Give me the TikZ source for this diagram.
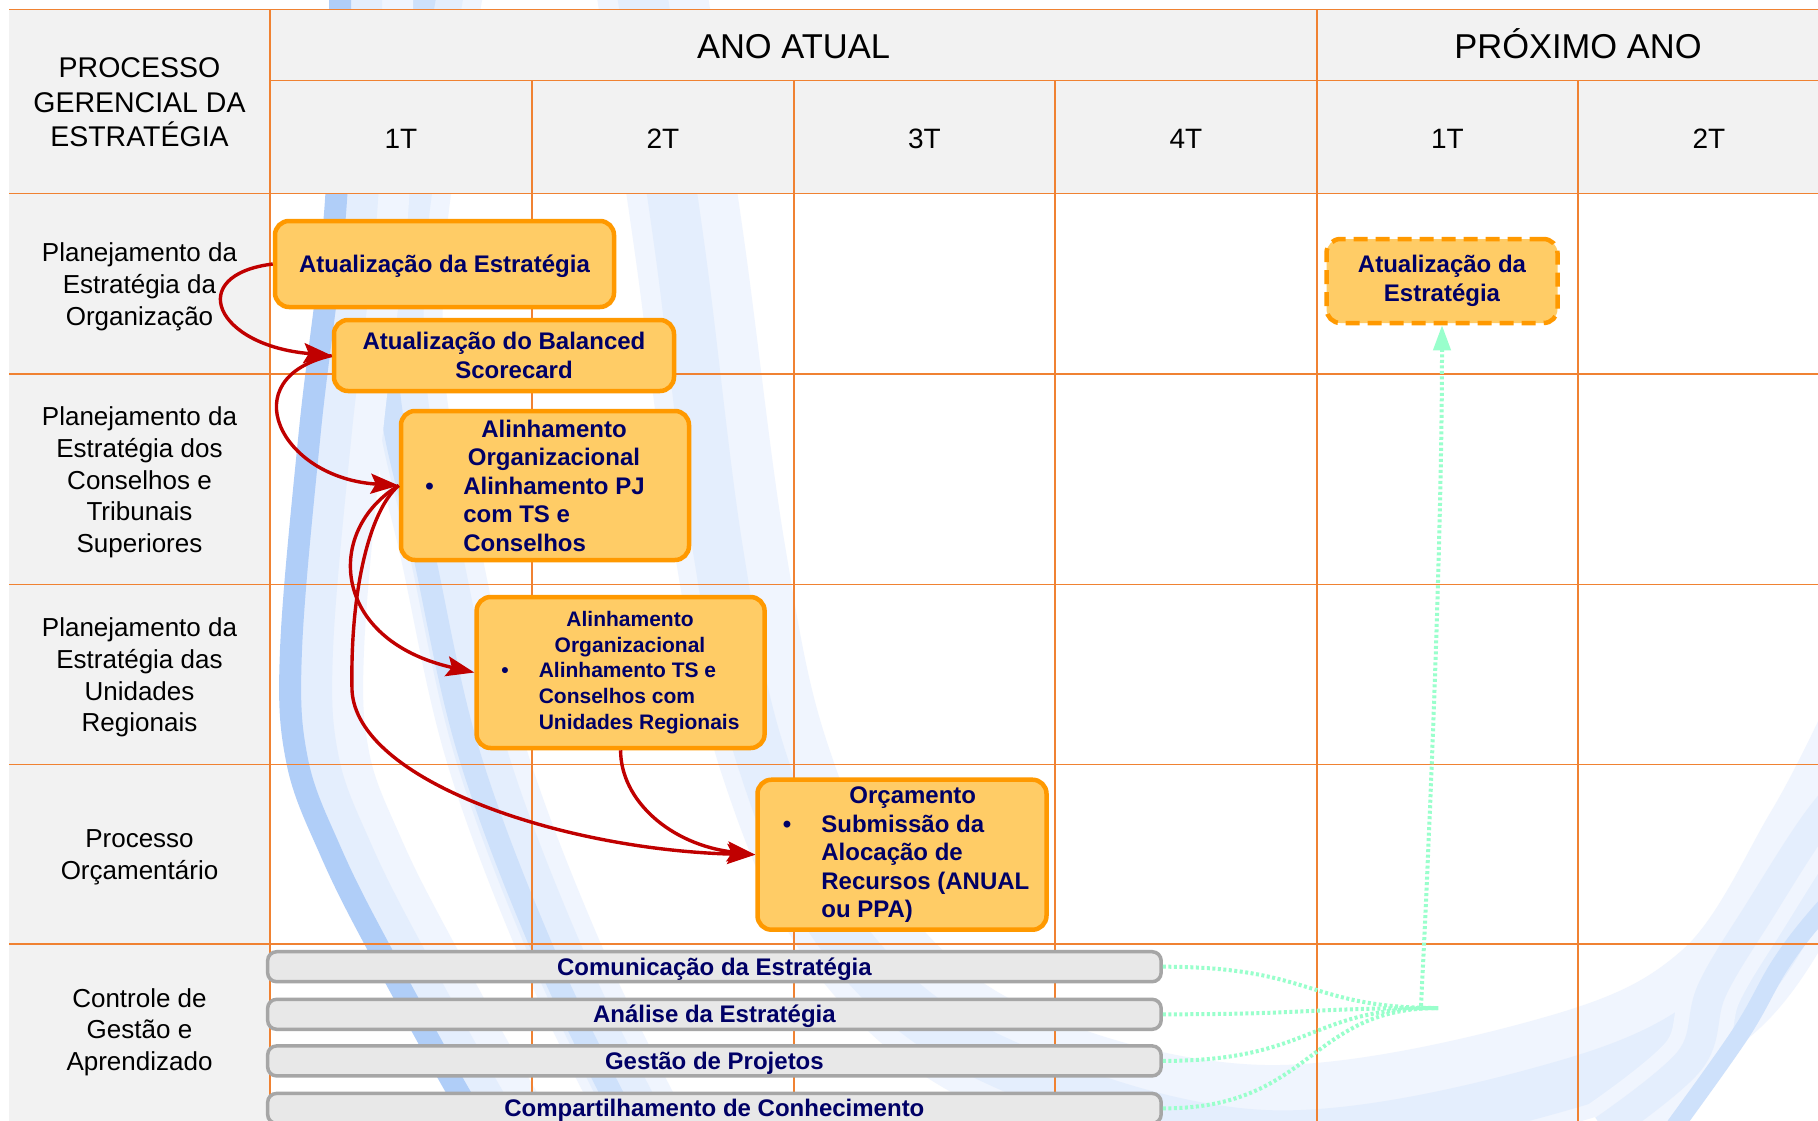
\documentclass[tikz,border=0pt]{standalone}
\usepackage{fontspec}
\setmainfont{Liberation Sans}
\usetikzlibrary{arrows.meta}

\definecolor{hdrgray}{RGB}{242,242,242}
\definecolor{gridor}{RGB}{240,130,50}
\definecolor{boxfill}{RGB}{255,204,102}
\definecolor{boxedge}{RGB}{255,153,0}
\definecolor{navy}{RGB}{0,0,102}
\definecolor{flowred}{RGB}{192,0,0}
\definecolor{aqua}{RGB}{153,255,204}
\definecolor{barfill}{RGB}{232,232,232}
\definecolor{baredge}{RGB}{166,166,166}
\definecolor{swA}{RGB}{176,206,248}
\definecolor{swB}{RGB}{206,225,251}
\definecolor{swC}{RGB}{228,238,253}
\definecolor{swD}{RGB}{240,245,254}

\newcommand\bxfont{\fontsize{24}{28.5}\selectfont\bfseries}
\newcommand\bxsmall{\fontsize{21}{25.7}\selectfont\bfseries}
\newcommand\lblfont{\fontsize{26}{31.7}\selectfont}
\newcommand\hdfont{\fontsize{34.5}{40}\selectfont}
\newcommand\qfont{\fontsize{28}{34}\selectfont}
\newcommand\procfont{\fontsize{28.5}{34.5}\selectfont}

\begin{document}
\begin{tikzpicture}[x=1pt,y=1pt,
  gridline/.style={draw=gridor, line width=1.5pt},
  orbox/.style={draw=boxedge, fill=boxfill, line width=4.5pt, rounded corners=14pt,
    inner sep=0pt, text=navy, font=\bxfont},
  dashbox/.style={orbox, dash pattern=on 14pt off 8pt},
  graybar/.style={draw=baredge, fill=barfill, line width=3.5pt, rounded corners=9pt,
    inner sep=0pt, minimum width=893.5pt, minimum height=30pt, text=navy,
    font=\bxfont, text height=17pt, text depth=0pt},
  rowlbl/.style={align=center, font=\lblfont, inner sep=0pt},
  qlbl/.style={font=\qfont, anchor=base, inner sep=0pt},
  yearlbl/.style={font=\hdfont, anchor=base, inner sep=0pt},
  flowarrow/.style={draw=flowred, line width=3.4pt,
    -{Stealth[length=28pt,width=20pt,inset=5pt]}},
  aqualine/.style={draw=aqua, line width=4pt, dash pattern=on 3pt off 2.5pt},
  band/.style={line join=round}
]
\useasboundingbox (0,0) rectangle (1818,-1120);
\begin{scope}
\clip (0,0) rectangle (1818,-1120);
\fill[white] (0,0) rectangle (1818,-1120);

% --- background swoosh: each band is a soft halo with a denser core ---
% wide pale arc sweeping round the lower part of the slide
\draw[band, swD, line width=110pt] plot[smooth, tension=0.6] coordinates
  {(650,20) (690,-250) (730,-550) (775,-760) (860,-940) (1010,-1060) (1265,-1120)
   (1560,-1070) (1720,-990) (1818,-840) (1870,-740)};
\draw[band, swC, line width=50pt] plot[smooth, tension=0.6] coordinates
  {(640,20) (680,-250) (718,-550) (762,-760) (845,-940) (995,-1060) (1265,-1135)
   (1565,-1085) (1732,-1000) (1830,-845) (1880,-745)};
% medium band
\draw[band, swD, line width=80pt] plot[smooth, tension=0.6] coordinates
  {(445,20) (425,-100) (405,-250) (407,-400) (440,-550) (485,-750) (560,-950) (645,-1125) (675,-1170)};
\draw[band, swC, line width=52pt] plot[smooth, tension=0.6] coordinates
  {(440,20) (420,-100) (400,-250) (402,-400) (435,-550) (480,-750) (555,-950) (640,-1125) (670,-1170)};
\draw[band, swB, line width=22pt] plot[smooth, tension=0.6] coordinates
  {(428,20) (408,-100) (388,-250) (390,-400) (423,-550) (468,-750) (543,-950) (628,-1125) (658,-1170)};
% strong narrow band with a pale glow on its right
\draw[band, swD, line width=70pt] plot[smooth, tension=0.6] coordinates
  {(378,20) (374,-200) (348,-430) (329,-650) (335,-760) (368,-850) (418,-950) (516,-1125) (558,-1170)};
\draw[band, swC, line width=40pt] plot[smooth, tension=0.6] coordinates
  {(362,20) (358,-200) (332,-430) (313,-650) (319,-760) (352,-850) (402,-950) (500,-1125) (542,-1170)};
\draw[band, swA, line width=22pt] plot[smooth, tension=0.6] coordinates
  {(340,20) (336,-200) (310,-430) (291,-650) (297,-760) (330,-850) (380,-950) (478,-1125) (520,-1170)};
% bands in the lower right corner
\draw[band, swD, line width=60pt] plot[smooth, tension=0.6] coordinates
  {(1870,-760) (1818,-820) (1760,-910) (1712,-990) (1690,-1060) (1604,-1130)};
\draw[band, swC, line width=30pt] plot[smooth, tension=0.6] coordinates
  {(1870,-760) (1818,-820) (1760,-910) (1712,-990) (1690,-1060) (1604,-1130)};
\draw[band, swB, line width=18pt] plot[smooth, tension=0.6] coordinates
  {(1870,-860) (1818,-915) (1780,-965) (1741,-1033) (1672,-1130)};

% --- table background ---
\fill[hdrgray] (9,-9.3) rectangle (1850,-193.3);
\fill[hdrgray] (9,-193.3) rectangle (270,-1130);

% --- grid ---
\draw[gridline] (9,-9.3) -- (1850,-9.3);
\draw[gridline] (270,-80.7) -- (1850,-80.7);
\foreach \y in {193.3,374,584.5,764.3,944}
  \draw[gridline] (9,-\y) -- (1850,-\y);
\foreach \x in {270,1317}
  \draw[gridline] (\x,-9.3) -- (\x,-1130);
\foreach \x in {532,794,1055,1578}
  \draw[gridline] (\x,-80.7) -- (\x,-1130);

% --- header texts ---
\node[align=center, font=\procfont, inner sep=0pt] (proc) at (139.5,-102.5)
  {PROCESSO\\GERENCIAL DA\\ESTRATÉGIA};
\node[yearlbl] (anoatual) at (793.5,-58.2) {ANO ATUAL};
\node[yearlbl] (proximo) at (1578,-58.3) {PRÓXIMO ANO};
\foreach \x/\t [count=\i] in {401/1T,663/2T,924.5/3T,1186/4T,1447.5/1T,1709/2T}
  \node[qlbl] (q\i) at (\x,-148.3) {\t};

% --- row labels ---
\node[rowlbl] (r1) at (139.5,-287) {Planejamento da\\Estratégia da\\Organização};
\node[rowlbl] (r2) at (139.5,-482.5) {Planejamento da\\Estratégia dos\\Conselhos e\\Tribunais\\Superiores};
\node[rowlbl] (r3) at (139.5,-677.5) {Planejamento da\\Estratégia das\\Unidades\\Regionais};
\node[rowlbl] (r4) at (139.5,-857.5) {Processo\\Orçamentário};
\node[rowlbl] (r5) at (139.5,-1032) {Controle de\\Gestão e\\Aprendizado};

% --- activity boxes ---
\node[orbox, minimum width=339pt, minimum height=86pt, text height=17pt, text depth=0pt]
  (strat) at (444.5,-264) {Atualização da Estratégia};
\node[orbox, minimum width=340pt, minimum height=71pt] (bsc) at (504,-355.5)
  {\parbox{330pt}{\centering Atualização do Balanced\\\hspace*{20pt}Scorecard}};
\node[orbox, minimum width=288pt, minimum height=149pt] (pj) at (545,-485.5)
  {\hspace*{18pt}\parbox{240pt}{{\centering Alinhamento\\Organizacional\par}%
   \noindent\hangindent=29.3pt\hangafter=1\makebox[29.3pt][l]{\hspace*{-8.6pt}\textbullet}%
   Alinhamento PJ\\com TS e\\Conselhos}};
\node[orbox, font=\bxsmall, minimum width=288pt, minimum height=151pt] (ur) at (620.6,-672.5)
  {\hspace*{18.8pt}\parbox{240pt}{{\centering Alinhamento\\Organizacional\par}%
   \noindent\hangindent=28.8pt\hangafter=1\makebox[28.8pt][l]{\hspace*{-8.7pt}\textbullet}%
   Alinhamento TS e\\Conselhos com\\Unidades Regionais}};
\node[orbox, minimum width=289pt, minimum height=150pt] (orc) at (902,-854.7)
  {\hspace*{21.6pt}\parbox{240pt}{{\centering Orçamento\par}%
   \noindent\hangindent=28.6pt\hangafter=1\makebox[28.6pt][l]{\hspace*{-10pt}\textbullet}%
   Submissão da\\Alocação de\\Recursos (ANUAL\\ou PPA)}};
\node[dashbox, minimum width=231pt, minimum height=84pt, align=center] (next) at (1442,-281)
  {Atualização da\\Estratégia};

% --- continuous processes ---
\node[graybar] (com)  at (714.4,-966.7)  {Comunicação da Estratégia};
\node[graybar] (ana)  at (714.4,-1014.3) {Análise da Estratégia};
\node[graybar] (proj) at (714.4,-1060.9) {Gestão de Projetos};
\node[graybar] (know) at (714.4,-1108.4) {Compartilhamento de Conhecimento};

% --- flow arrows ---
\draw[flowarrow] (strat.west) .. controls +(-88,-11) and +(-117,10) .. (bsc.west);
\draw[flowarrow] (bsc.west) .. controls +(-100,-22.5) and +(-119,7.5) .. (pj.west);
\draw[flowarrow] (pj.west) .. controls +(-74,-44.5) and +(-144,32.5) .. (ur.west);
\coordinate (bend) at (352,-690);
\draw[flowarrow] (pj.west) .. controls +(-29,-24.5) and +(-2,100) .. (bend)
  .. controls +(4,-90) and +(-195,5) .. (orc.west);
\draw[flowarrow] (ur.south) .. controls +(0,-50) and +(-85,10) .. (orc.west);

% --- feedback to next year's update ---
\coordinate (hub) at (1438,-1008);
\coordinate (rise) at (1421,-1006);
\foreach \b in {com,ana,proj,know}
  \draw[aqualine] (\b.east) .. controls +(150,0) and +(-130,0) .. (hub);
\draw[aqualine, -{Triangle[length=25pt,width=17pt]}] (rise)
  .. controls +(10,200) and +(0,-200) .. (next.south);
\end{scope}
\end{tikzpicture}
\end{document}
